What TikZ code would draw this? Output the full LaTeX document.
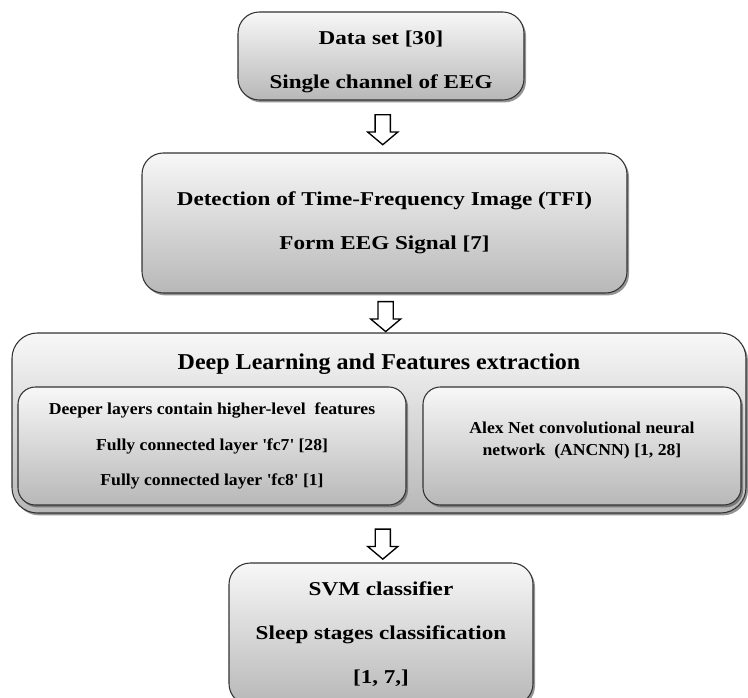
\documentclass[tikz,border=0pt]{standalone}
\usepackage{fontspec}
\setmainfont{Liberation Serif}
\newfontfamily\widefont[FakeStretch=1.18]{Liberation Serif}
\newfontfamily\midfont[FakeStretch=1.06]{Liberation Serif}
\usepackage{tikz}
\usetikzlibrary{shapes.arrows, shadows, calc, positioning}
\tikzstyle{stage} = [rectangle, rounded corners=16pt, draw=black!80, line width=0.8pt, top color=black!3, bottom color=black!28, drop shadow={shadow xshift=1.5pt, shadow yshift=-1.8pt, fill=black!70, opacity=0.6}, align=center, font=\widefont\bfseries\fontsize{14.7}{33}\selectfont]
\tikzstyle{inner} = [stage, rounded corners=13pt, font=\midfont\bfseries\fontsize{12.5}{26.6}\selectfont]
\tikzstyle{hollowarrow} = [single arrow, draw=black, line width=1pt, fill=white, shape border rotate=270, minimum height=22.5pt, inner sep=5.2pt, single arrow head extend=5.6pt, single arrow tip angle=100]
\newcommand{\sq}{\textquotesingle}

\begin{document}
\begin{tikzpicture}[x=0.75pt, y=-0.75pt]
\useasboundingbox (0,0) rectangle (748,698);
\node[stage, minimum width=214.5pt, minimum height=66pt] (data) at (381,56)
          {\mbox{}\\[-14pt]Data set [30]\\Single channel of EEG};
\node[stage, minimum width=363.75pt, minimum height=105pt] (tfi) at (384.5,223)
          {Detection of Time-Frequency Image (TFI)\\Form EEG Signal [7]};
\node[stage, rounded corners=19pt, minimum width=550.5pt, minimum height=135pt] (deep) at (379,423) {};
\node[font=\midfont\bfseries\fontsize{17}{20}\selectfont] (deeptitle) at (deep.north) [yshift=-23.5pt]
          {Deep Learning and Features extraction};
\node[inner, minimum width=291pt, minimum height=88.5pt] (layers) at (212,446)
          {Deeper layers contain higher-level\ \ features\\Fully connected layer \sq fc7\sq{} [28]\\Fully connected layer \sq fc8\sq{} [1]};
\node[inner, minimum width=238.5pt, minimum height=88.5pt, font=\midfont\bfseries\fontsize{12.5}{16.5}\selectfont] (alex) at (582,446)
          {Alex Net convolutional neural\\network\ \ (ANCNN) [1, 28]\\[-6pt]\mbox{}};
\node[stage, minimum width=228pt, minimum height=106.5pt] (svm) at (381,634)
          {SVM classifier\\Sleep stages classification\\{}[1, 7,]};
% block arrows between the stages
\node[hollowarrow] (a1) at ($(data.south)!0.5!(tfi.north)$) {};
\node[hollowarrow, anchor=tip] (a2) at (deep.north) [xshift=5pt] {};
\node[hollowarrow] (a3) at ($(deep.south)!0.56!(svm.north)$) [xshift=2pt] {};
\end{tikzpicture}
\end{document}
